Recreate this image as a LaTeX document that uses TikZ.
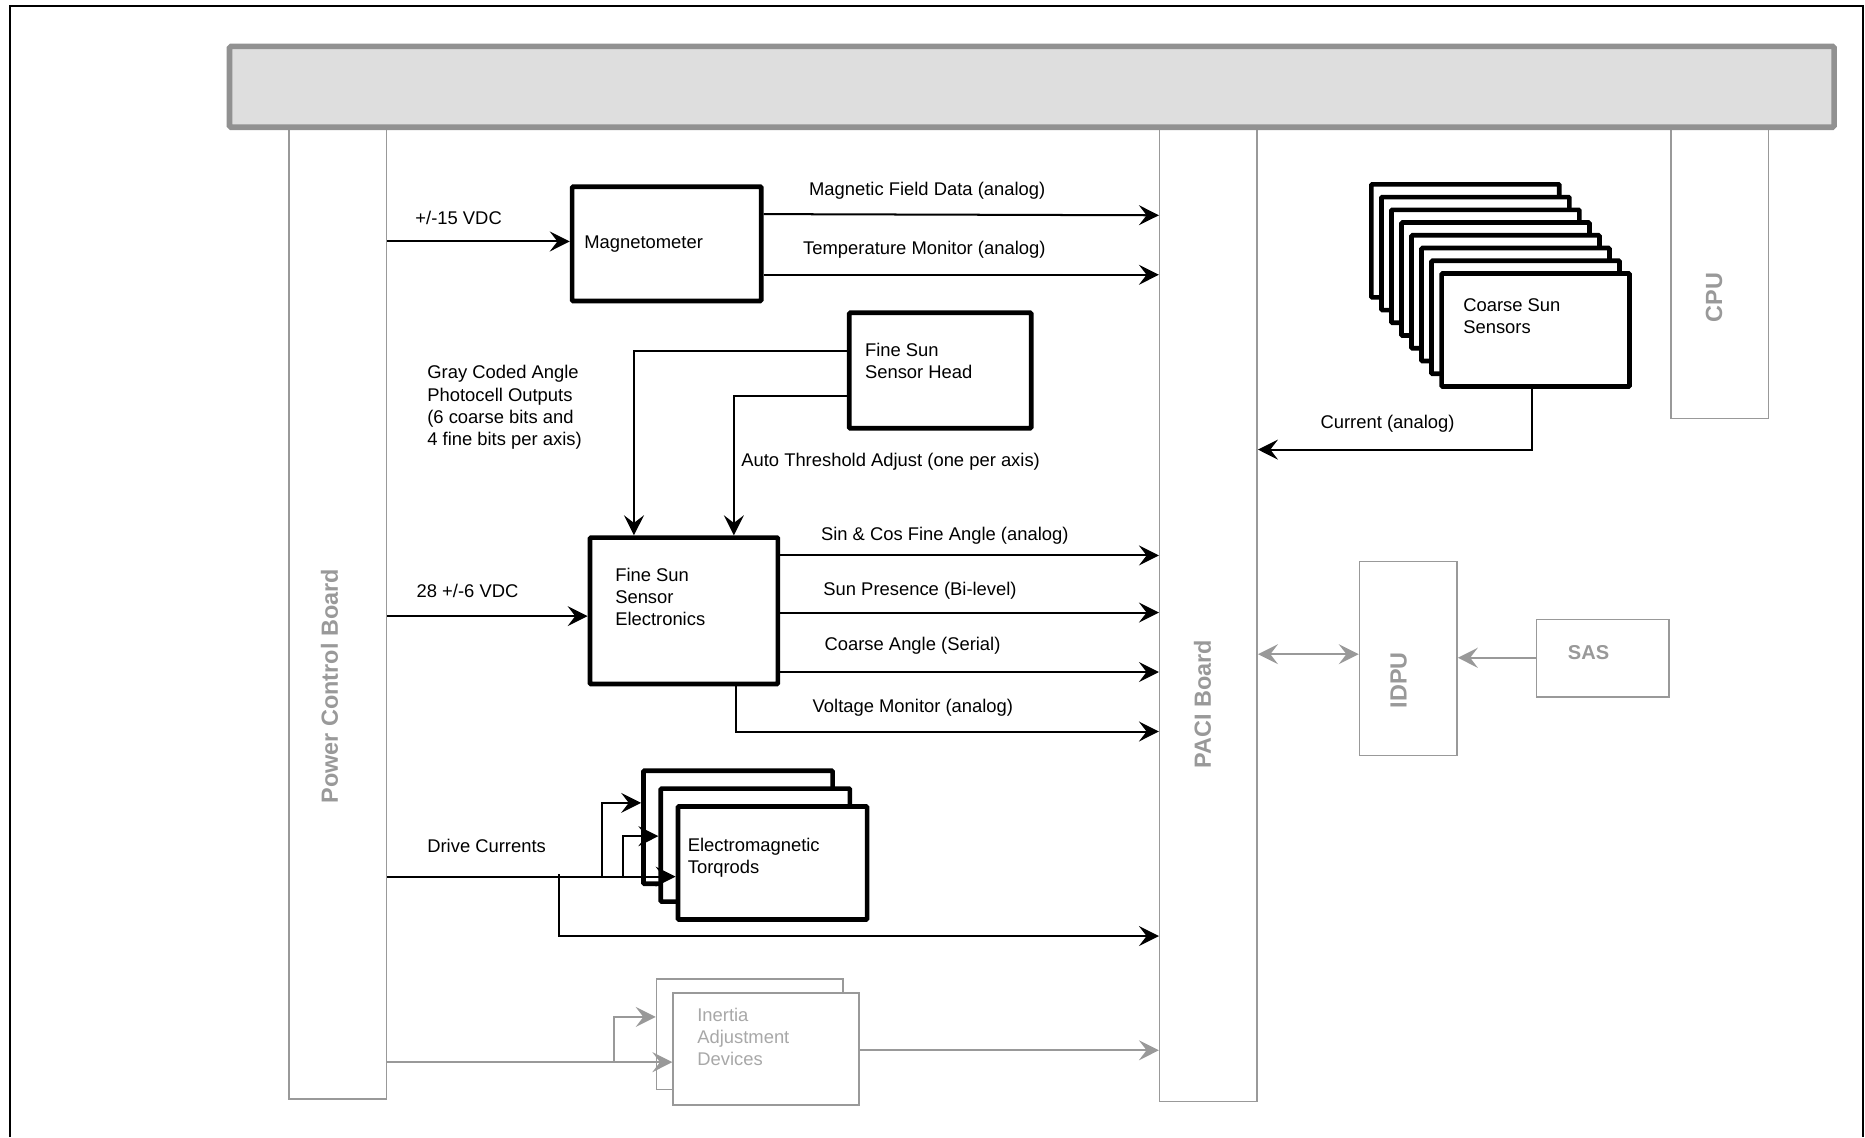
\documentclass[tikz,border=0pt]{standalone}
\usepackage{fontspec}
\setmainfont{Liberation Sans}
\usetikzlibrary{arrows.meta,fit,calc,positioning}

\definecolor{boardgray}{HTML}{999999}
\definecolor{busfill}{HTML}{DEDEDE}
\definecolor{busline}{HTML}{919191}
\definecolor{iadgray}{HTML}{A8A8A8}

\begin{document}
\begin{tikzpicture}[x=0.25mm,y=-0.25mm,
    >={Stealth[length=4.2mm,width=4.2mm,inset=1.6mm]},
    blk/.style={draw,line width=2.8pt,fill=white,inner sep=0pt,rounded corners=0.6pt},
    gblk/.style={draw=boardgray,line width=1pt,fill=white,inner sep=0pt},
    panel/.style={draw=boardgray,line width=0.9pt,inner sep=0pt},
    lbl/.style={anchor=west,inner sep=0pt,yshift=-0.5mm,align=left,font=\fontsize{11}{13.3}\selectfont},
    mlbl/.style={lbl,anchor=north west},
    blabel/.style={inner sep=0pt,rotate=90,text=boardgray,font=\fontsize{14}{16}\selectfont\bfseries},
    conn/.style={line width=1.2pt,->},
    gconn/.style={line width=1.2pt,draw=boardgray,->}]
    \useasboundingbox (0,0) rectangle (1568,956);
    % --- outer frame (open at the bottom) ---
    \draw[line width=1.2pt] (8,956) -- (8,5) -- (1566,5) -- (1566,956);

    % --- boards hanging from the bus ---
    \node[panel,fit={(243,107) (325,924)}] (pcb) {};
    \node[panel,fit={(975,107) (1057,926)}] (paci) {};
    \node[panel,fit={(1405,107) (1487,352)}] (cpu) {};
    \node[panel,fit={(1143,472) (1225,635)}] (idpu) {};
    \node[panel,fit={(1292,521) (1403,586)}] (sas) {};
    \node[draw=busline,fill=busfill,line width=3.4pt,rounded corners=1pt,
          inner sep=0pt,fit={(193,39) (1542,107)}] (bus) {};
    \node[blabel] (pcblbl) at (277,577) {Power Control Board};
    \node[blabel] (pacilbl) at (1011,592) {PACI Board};
    \node[blabel] (cpulbl) at (1441,250) {CPU};
    \node[blabel] (idpulbl) at (1176,572) {IDPU};
    \node[lbl,text=boardgray,font=\fontsize{12}{14}\selectfont\bfseries] (saslbl) at (1318,547) {SAS};

    % --- units ---
    \node[blk,fit={(481,157) (640,253)}] (mag) {};
    \node[lbl] (maglbl) at (491,203) {Magnetometer};
    \node[blk,fit={(714,263) (867,360)}] (fssh) {};
    \node[mlbl] (fsshlbl) at (727,286) {Fine Sun\\Sensor Head};
    \node[blk,fit={(496,452) (654,575)}] (fsse) {};
    \node[mlbl] (fsselbl) at (517,475) {Fine Sun\\Sensor\\Electronics};
    \foreach \i in {1,2,3}
      \node[blk,fit={({541+14.5*(\i-1)},{648+15*(\i-1)}) ({700+14.5*(\i-1)},{743+15*(\i-1)})}] (rod\i) {};
    \node[mlbl] (rodlbl) at (578,702) {Electromagnetic\\Torqrods};
    \foreach \i in {0,...,7}
      \node[blk,fit={({1153+8.43*\i},{155+10.71*\i}) ({1311+8.43*\i},{250+10.71*\i})}] (css\i) {};
    \node[mlbl] (csslbl) at (1230,249) {Coarse Sun\\Sensors};
    \node[gblk,fit={(552,823) (709,916)}] (iad1) {};
    \node[gblk,fit={(566,835) (722,929)}] (iad2) {};
    \node[mlbl,text=iadgray] (iadlbl) at (586,845) {Inertia\\Adjustment\\Devices};

    % --- tap points ---
    \coordinate (tap0) at (470,735);
    \coordinate (tap1) at (506,737);
    \coordinate (tap2) at (524,737);
    \coordinate (tap3) at (516,893);
    \coordinate (csstap) at ($(css7.south)+(-3,0)$);

    % --- connectors ---
    \draw[conn] (pcb.east |- 0,203) -- (mag.west |- 0,203);
    \draw[conn] (mag.east |- 0,180) -- (paci.west |- 0,181);
    \draw[conn] (mag.east |- 0,231) -- (paci.west |- 0,231);
    \draw[conn] (fssh.west |- 0,295) -| (fsse.north -| 533,0);
    \draw[conn] (fssh.west |- 0,333) -| (fsse.north -| 617,0);
    \draw[conn] (pcb.east |- 0,518) -- (fsse.west |- 0,518);
    \draw[conn] (fsse.east |- 0,467) -- (paci.west |- 0,467);
    \draw[conn] (fsse.east |- 0,515) -- (paci.west |- 0,515);
    \draw[conn] (fsse.east |- 0,565) -- (paci.west |- 0,565);
    \draw[conn] (fsse.south -| 619,0) |- (paci.west |- 0,615);
    \draw[conn] (pcb.east |- 0,737) -- (rod3.west |- 0,737);
    \draw[conn] (tap1) |- (rod1.west |- 0,675);
    \draw[conn] (tap2) |- (rod2.west |- 0,703);
    \draw[conn] (tap0) |- (paci.west |- 0,787);
    \draw[conn] (csstap) |- (paci.east |- 0,378);
    \draw[gconn] (pcb.east |- 0,893) -- (iad2.west |- 0,893);
    \draw[gconn] (tap3) |- (iad1.west |- 0,855);
    \draw[gconn] (iad2.east |- 0,883) -- (paci.west |- 0,883);
    \draw[gconn,<->] (paci.east |- 0,550) -- (idpu.west |- 0,550);
    \draw[gconn] (sas.west |- 0,553) -- (idpu.east |- 0,553);

    % --- connector labels ---
    \node[lbl] (l15) at (349,181) {+/-15 VDC};
    \node[lbl] (lmfd) at (680,158) {Magnetic Field Data (analog)};
    \node[lbl] (ltmp) at (675,208) {Temperature Monitor (analog)};
    \node[mlbl] (lgray) at (359,305) {Gray Coded Angle\\Photocell Outputs\\(6 coarse bits and\\4 fine bits per axis)};
    \node[lbl] (lauto) at (623,386) {Auto Threshold Adjust (one per axis)};
    \node[lbl] (l28) at (350,495) {28 +/-6 VDC};
    \node[lbl] (lsin) at (690,448) {Sin \& Cos Fine Angle (analog)};
    \node[lbl] (lsun) at (692,495) {Sun Presence (Bi-level)};
    \node[lbl] (lca) at (693,541) {Coarse Angle (Serial)};
    \node[lbl] (lvm) at (683,593) {Voltage Monitor (analog)};
    \node[lbl] (ldrv) at (359,709) {Drive Currents};
    \node[lbl] (lcur) at (1110,354) {Current (analog)};
  \end{tikzpicture}
\end{document}
